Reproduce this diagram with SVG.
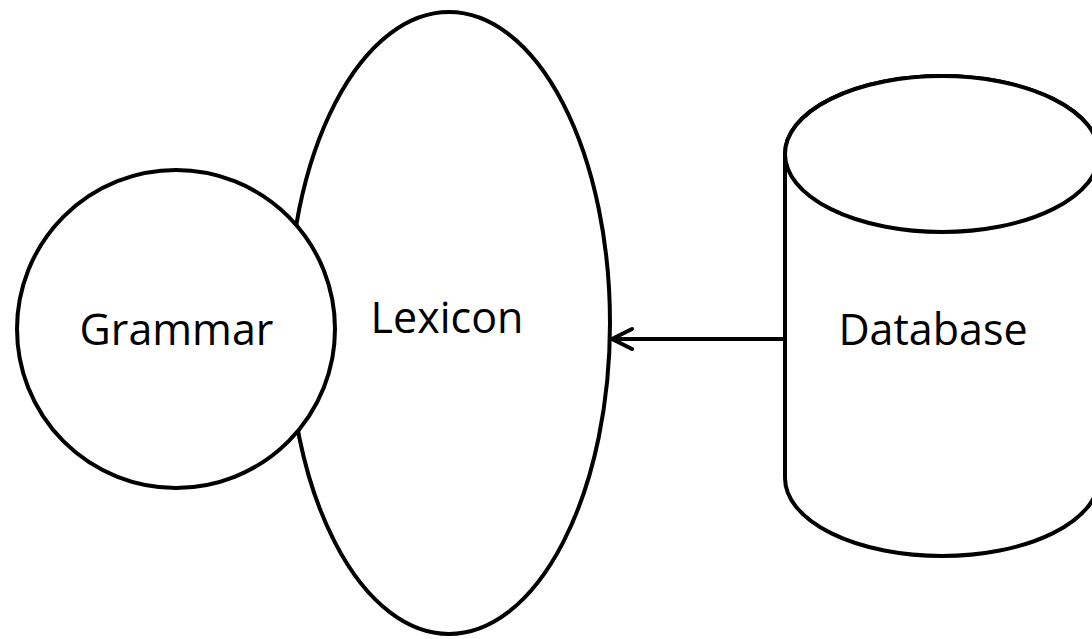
<svg xmlns="http://www.w3.org/2000/svg" width="1092" height="639" viewBox="0 0 1092 639">
  <defs>
    <style>
      .shape { fill: #ffffff; stroke: #000000; stroke-width: 4; }
      .label { font-family: "Open Sans", "Noto Sans", "Liberation Sans", sans-serif; font-size: 43px; fill: #000000; text-anchor: middle; }
      .conn { fill: none; stroke: #000000; stroke-width: 4; }
    </style>
    <marker id="open-arrow" viewBox="0 0 26 26" markerWidth="26" markerHeight="26" refX="23" refY="13" orient="auto" markerUnits="userSpaceOnUse">
      <path d="M3,3 L23,13 L3,23" fill="none" stroke="#000000" stroke-width="4" stroke-linecap="round" stroke-linejoin="round"/>
    </marker>
  </defs>
  <rect width="1092" height="639" fill="#ffffff"/>
  <g id="lexicon">
    <ellipse class="shape" cx="449" cy="323" rx="161" ry="311"/>
    <text class="label" x="447" y="333">Lexicon</text>
  </g>
  <g id="grammar">
    <circle class="shape" cx="176" cy="329" r="159"/>
    <text class="label" x="176.5" y="345">Grammar</text>
  </g>
  <g id="database">
    <path class="shape" d="M785,154 L785,478 A157,78 0 0 0 1099,478 L1099,154 A157,78 0 0 0 785,154 Z"/>
    <ellipse class="shape" cx="942" cy="154" rx="157" ry="78"/>
    <text class="label" x="933" y="345">Database</text>
  </g>
  <g id="connectors">
    <line class="conn" x1="785" y1="339" x2="612" y2="339" marker-end="url(#open-arrow)"/>
  </g>
</svg>
